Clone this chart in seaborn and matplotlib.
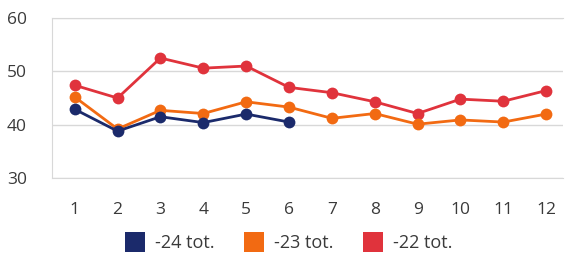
import pandas as pd
import matplotlib
matplotlib.use("Agg")
import matplotlib.pyplot as plt
from matplotlib.lines import Line2D
import seaborn as sns

months = [1, 2, 3, 4, 5, 6, 7, 8, 9, 10, 11, 12]
tot_24 = [42.9, 38.8, 41.5, 40.4, 42.0, 40.5]
tot_23 = [45.2, 39.2, 42.7, 42.1, 44.3, 43.3, 41.2, 42.1, 40.1, 40.9, 40.5, 42.0]
tot_22 = [47.4, 45.0, 52.5, 50.6, 51.0, 47.0, 46.0, 44.3, 42.1, 44.8, 44.4, 46.4]
labels = ["-24 tot.", "-23 tot.", "-22 tot."]
colors = ["#1b2a6b", "#f26a12", "#e0333c"]

rows = []
for lab, vals in zip(labels, [tot_24, tot_23, tot_22]):
    for m, v in zip(months, vals):
        rows.append({"month": m, "value": v, "series": lab})
df = pd.DataFrame(rows)

sns.set_style("white")
plt.rcParams["font.family"] = ["Open Sans", "DejaVu Sans"]

fig = plt.figure(figsize=(5.65, 2.57), dpi=100)
ax = fig.add_axes([0.092, 0.307, 0.905, 0.623])

# draw back to front: red, orange, navy
for lab, col in zip(labels[::-1], colors[::-1]):
    sns.lineplot(data=df[df["series"] == lab], x="month", y="value", ax=ax,
                 color=col, linewidth=2.0, marker="o", markersize=8.5,
                 markeredgewidth=0, legend=False)

ax.set_xlim(0.47, 12.4)
ax.set_ylim(30, 60)
ax.set_xticks(months)
ax.set_yticks([30, 40, 50, 60])
ax.set_xlabel("")
ax.set_ylabel("")
ax.grid(axis="y", color="#d8d8d8", linewidth=1)
for s in ax.spines.values():
    s.set_color("#d8d8d8")
ax.spines["right"].set_visible(False)
ax.tick_params(axis="x", length=0, pad=17, labelsize=12.5, labelcolor="#3a3a3a")
ax.tick_params(axis="y", length=0, pad=18, labelsize=12.5, labelcolor="#3a3a3a")

handles = [Line2D([0], [0], marker="s", color="none", markerfacecolor=c,
                  markeredgewidth=0, markersize=15) for c in colors]
fig.legend(handles, labels, loc="center", bbox_to_anchor=(0.51, 0.055), ncol=3,
           frameon=False, fontsize=13, handletextpad=0.5, columnspacing=1.6,
           handlelength=1.2, labelcolor="#3a3a3a")

fig.savefig("out.png", dpi=100)
